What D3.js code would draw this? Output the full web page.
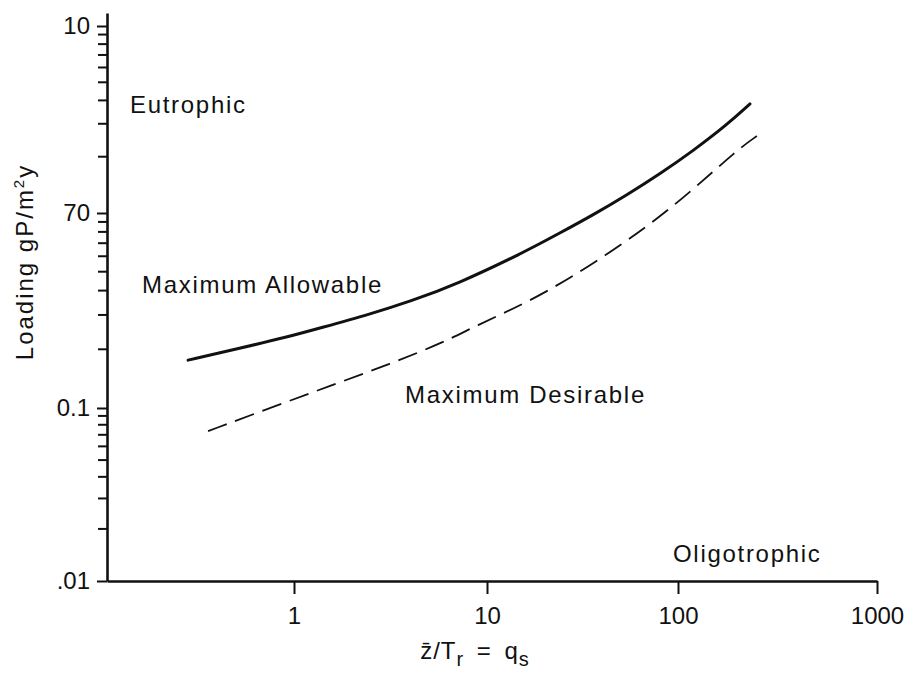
<!DOCTYPE html>
<html>
<head>
<meta charset="utf-8">
<script src="https://cdn.jsdelivr.net/npm/d3@7"></script>
<style>
  body { margin: 0; background: #fff; }
  svg { display: block; }
  text { font-family: "Liberation Sans", Arial, Helvetica, sans-serif; fill: #111; }
</style>
</head>
<body>
<svg width="922" height="677"></svg>
<script>
// tick values and labels (as printed)
var xTicks = [1, 10, 100, 1000];
var xTickLabels = ["1", "10", "100", "1000"];
var yTicks = [0.01, 0.1, 1, 10];
var yTickLabels = [".01", "0.1", "70", "10"];

// Maximum Allowable (solid)
var allowQ = [0.282, 0.507, 0.92, 1.36, 2.48, 3.99, 7.0, 15.4, 24.1, 35.9, 54.1, 80.5, 119, 176, 230];
var allowL = [0.176, 0.201, 0.231, 0.257, 0.303, 0.352, 0.432, 0.624, 0.79, 0.977, 1.25, 1.62, 2.15, 2.96, 3.83];

// Maximum Desirable (dashed)
var desirQ = [0.358, 0.751, 1.54, 3.14, 6.21, 8.46, 17.4, 34.6, 68.8, 119, 198, 249];
var desirL = [0.0735, 0.1, 0.130, 0.168, 0.221, 0.26, 0.358, 0.535, 0.847, 1.33, 2.17, 2.58];

var svg = d3.select("svg");
svg.append("rect").attr("width", 922).attr("height", 677).attr("fill", "#fff");

// hand drawn decades are not quite even, so piecewise log scales
var x = d3.scaleLog()
  .domain([0.107, 1, 10, 100, 1000])
  .range([107, 294, 487, 678, 877]);
var y = d3.scaleLog()
  .domain([0.01, 0.1, 1, 10, 11.7])
  .range([581, 408, 213, 26, 13]);

// minor ticks on the y axis
var minor = [];
[0.01, 0.1, 1].forEach(function (dec) {
  for (var k = 2; k <= 9; k++) minor.push(dec * k);
});
svg.append("g")
  .selectAll("line")
  .data(minor)
  .enter()
  .append("line")
  .attr("x1", x(0.107) - 9)
  .attr("x2", x(0.107))
  .attr("y1", function (d) { return y(d); })
  .attr("y2", function (d) { return y(d); })
  .attr("stroke", "#111")
  .attr("stroke-width", 2);

// y axis
var yAxis = svg.append("g")
  .attr("transform", "translate(" + x(0.107) + ",0)")
  .call(d3.axisLeft(y)
    .tickValues(yTicks)
    .tickFormat(function (d, i) { return yTickLabels[i]; })
    .tickSize(10)
    .tickPadding(7)
    .tickSizeOuter(0));

// x axis
var xAxis = svg.append("g")
  .attr("transform", "translate(0," + y(0.01) + ")")
  .call(d3.axisBottom(x)
    .tickValues(xTicks)
    .tickFormat(function (d, i) { return xTickLabels[i]; })
    .tickSize(13)
    .tickPadding(13)
    .tickSizeOuter(0));

[yAxis, xAxis].forEach(function (g) {
  g.attr("font-size", 24).attr("font-family", null);
  g.select(".domain").attr("stroke", "#111").attr("stroke-width", 2.6);
  g.selectAll(".tick line").attr("stroke", "#111").attr("stroke-width", 2);
  g.selectAll(".tick text").attr("fill", "#111");
});

// curves
var line = d3.line()
  .x(function (d) { return x(d[0]); })
  .y(function (d) { return y(d[1]); })
  .curve(d3.curveBasis);

svg.append("path")
  .datum(d3.zip(allowQ, allowL))
  .attr("d", line)
  .attr("fill", "none")
  .attr("stroke", "#111")
  .attr("stroke-width", 3)
  .attr("stroke-linecap", "round");

svg.append("path")
  .datum(d3.zip(desirQ, desirL))
  .attr("d", line)
  .attr("fill", "none")
  .attr("stroke", "#111")
  .attr("stroke-width", 1.8)
  .attr("stroke-dasharray", "20,9");

// region and curve labels
var labels = svg.append("g")
  .attr("font-size", 24)
  .attr("letter-spacing", 1.7);
labels.append("text").attr("x", 130).attr("y", 113).text("Eutrophic");
labels.append("text").attr("x", 142).attr("y", 293).text("Maximum Allowable");
labels.append("text").attr("x", 405).attr("y", 403).text("Maximum Desirable");
labels.append("text").attr("x", 673).attr("y", 562).text("Oligotrophic");

// axis titles
var xt = svg.append("text")
  .attr("x", 475)
  .attr("y", 659)
  .attr("text-anchor", "middle")
  .attr("font-size", 24)
  .attr("letter-spacing", 1)
  .attr("word-spacing", 5);
xt.append("tspan").text("z\u0304/T");
xt.append("tspan").attr("dy", 7).attr("font-size", 20).text("r");
xt.append("tspan").attr("dy", -7).text(" = q");
xt.append("tspan").attr("dy", 7).attr("font-size", 20).text("s");

var yt = svg.append("text")
  .attr("transform", "translate(33,262) rotate(-90)")
  .attr("text-anchor", "middle")
  .attr("font-size", 24)
  .attr("letter-spacing", 2);
yt.append("tspan").text("Loading gP/m");
yt.append("tspan").attr("dy", -9).attr("font-size", 15).text("2");
yt.append("tspan").attr("dy", 9).text("y");
</script>
</body>
</html>
